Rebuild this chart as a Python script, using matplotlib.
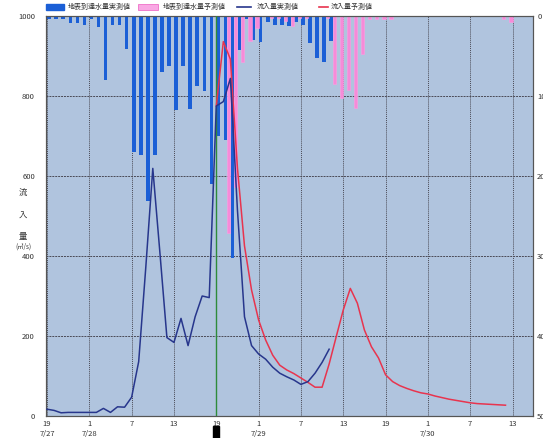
import matplotlib
matplotlib.use("Agg")
import matplotlib.pyplot as plt
from matplotlib.lines import Line2D
from matplotlib.patches import Rectangle
import numpy as np

plt.rcParams["font.family"] = ["Noto Sans CJK JP", "DejaVu Sans"]

W, H = 543, 438

# hours counted from 7/27 19:00
TICK_HOURS = [0, 6, 12, 18, 24, 30, 36, 42, 48, 54, 60, 66]
TICK_LABELS = ["19\n7/27", "1\n7/28", "7", "13", "19", "1\n7/29",
               "7", "13", "19", "1\n7/30", "7", "13"]

# 地表到達水量 実測値 (mm), hours 0..40
rain_obs = [0.4, 0.4, 0.4, 0.9, 0.9, 1.1, 0.4, 1.4, 8.0, 1.1,
            1.1, 4.1, 17.0, 17.4, 23.1, 17.4, 7.0, 6.3, 11.8, 6.3,
            11.6, 8.7, 9.4, 21.0, 15.0, 15.5, 30.3, 4.3, 0.4, 3.0,
            3.3, 0.8, 1.1, 1.1, 1.2, 0.7, 1.1, 3.4, 5.3, 5.8, 3.1]

# 地表到達水量 予測値 (mm), hours 25..65
rain_fcst = [27.1, 21.4, 5.8, 3.1, 1.5, 0.0, 0.3, 0.3, 0.6, 1.2,
             0.3, 0.3, 0.0, 0.0, 0.3, 8.5, 10.3, 9.2, 11.5, 4.8,
             0.4, 0.4, 0.4, 0.4, 0.0, 0.0, 0.0, 0.0, 0.0, 0.0,
             0.0, 0.0, 0.0, 0.0, 0.0, 0.0, 0.0, 0.0, 0.0, 0.4, 0.7]

# 流入量 実測値 (m3/s), hours 0..40
flow_obs = [17, 14, 8, 9, 9, 9, 9, 9, 19, 9,
            23, 22, 47, 136, 370, 619, 410, 196, 184, 244,
            176, 248, 300, 296, 775, 786, 844, 515, 248, 176,
            155, 142, 122, 107, 98, 90, 79, 86, 107, 134, 167]

# 流入量 予測値 (m3/s), hours 24..65
flow_fcst = [775, 936, 892, 620, 425, 315, 240, 190, 152, 127,
             115, 106, 95, 84, 72, 72, 130, 198, 265, 319,
             282, 215, 173, 145, 103, 86, 76, 69, 63, 58,
             55, 50, 46, 42, 39, 36, 33, 31, 30, 29, 28, 27]

NOW_HOUR = 24

BG = "#b0c4de"
BLUE_BAR = "#1b5fd6"
PINK_BAR = "#f78ad8"
NAVY = "#27368c"
RED = "#e8344e"
GRID = "#4a4a55"
TEXT = "#333333"


def fx(px):
    return px / W


def fy(py):
    return 1 - py / H


fig = plt.figure(figsize=(W / 100, H / 100), dpi=100)
ax_rain = fig.add_axes([fx(46), fy(416), 487 / W, 400 / H])
ax_rain.set_facecolor(BG)
ax_flow = ax_rain.twinx()

h_obs = np.arange(len(rain_obs))
h_fcst = np.arange(25, 25 + len(rain_fcst))
ax_rain.bar(h_obs + 0.3, rain_obs, width=0.5, color=BLUE_BAR, zorder=2)
ax_rain.bar(h_fcst + 0.77, rain_fcst, width=0.45, color=PINK_BAR,
            edgecolor="#ff9de2", linewidth=0.4, zorder=2)

ax_rain.set_ylim(50, 0)
ax_rain.set_xlim(-0.14, 68.9)
ax_rain.yaxis.tick_right()
ax_rain.set_yticks([0, 10, 20, 30, 40, 50])
ax_rain.tick_params(axis="y", labelsize=5.5, length=0, pad=3, colors=TEXT)
ax_rain.set_xticks(TICK_HOURS)
ax_rain.set_xticklabels(TICK_LABELS, fontsize=5.5, linespacing=1.3)
ax_rain.tick_params(axis="x", length=0, pad=3, colors=TEXT)
ax_rain.grid(axis="x", color=GRID, linestyle=(0, (1, 1)), linewidth=0.7, zorder=1)
ax_rain.grid(axis="y", color=GRID, linestyle=(0, (2, 1)), linewidth=0.7, zorder=1)
ax_rain.set_axisbelow(True)
for side in ax_rain.spines.values():
    side.set_color("#555555")
    side.set_linewidth(0.8)

ax_flow.yaxis.tick_left()
ax_flow.set_ylim(0, 1000)
ax_flow.set_xlim(-0.14, 68.9)
ax_flow.set_yticks([0, 200, 400, 600, 800, 1000])
ax_flow.tick_params(axis="y", labelsize=5.5, length=0, pad=8, colors=TEXT)
for side in ax_flow.spines.values():
    side.set_color("#555555")
    side.set_linewidth(0.8)

ax_flow.axvline(NOW_HOUR, color="#2e8b3a", linewidth=1.0, zorder=3)
ax_flow.plot(np.arange(len(flow_obs)), flow_obs, color=NAVY, linewidth=1.1, zorder=5)
ax_flow.plot(np.arange(24, 24 + len(flow_fcst)), flow_fcst, color=RED, linewidth=1.1, zorder=4)

# current time marker under the axis
fig.add_artist(Rectangle((fx(213), 0), 6 / W, 12 / H, color="black",
                         transform=fig.transFigure))

# vertical y-axis label
for txt, ypix, size in [("流", 192, 6), ("入", 215, 6), ("量", 236, 6), ("(㎥/s)", 247, 4.5)]:
    fig.text(fx(23), fy(ypix), txt, fontsize=size, ha="center", va="center", color=TEXT)

# legend row along the top
LEG_Y = 7
fig.add_artist(Rectangle((fx(46), fy(10)), 18 / W, 6 / H, facecolor=BLUE_BAR,
                         edgecolor=BLUE_BAR, transform=fig.transFigure))
fig.text(fx(68), fy(LEG_Y), "地表到達水量実測値", fontsize=5, va="center", color=TEXT)
fig.add_artist(Rectangle((fx(138), fy(10)), 20 / W, 6 / H, facecolor="#f9a8e4",
                         edgecolor="#f070c8", linewidth=0.6, transform=fig.transFigure))
fig.text(fx(163), fy(LEG_Y), "地表到達水量予測値", fontsize=5, va="center", color=TEXT)
fig.add_artist(Line2D([fx(237), fx(251)], [fy(LEG_Y), fy(LEG_Y)], color=NAVY,
                      linewidth=1.2, transform=fig.transFigure))
fig.text(fx(257), fy(LEG_Y), "流入量実測値", fontsize=5, va="center", color=TEXT)
fig.add_artist(Line2D([fx(319), fx(328)], [fy(LEG_Y), fy(LEG_Y)], color=RED,
                      linewidth=1.2, transform=fig.transFigure))
fig.text(fx(331), fy(LEG_Y), "流入量予測値", fontsize=5, va="center", color=TEXT)

fig.savefig("out.png", dpi=100)
